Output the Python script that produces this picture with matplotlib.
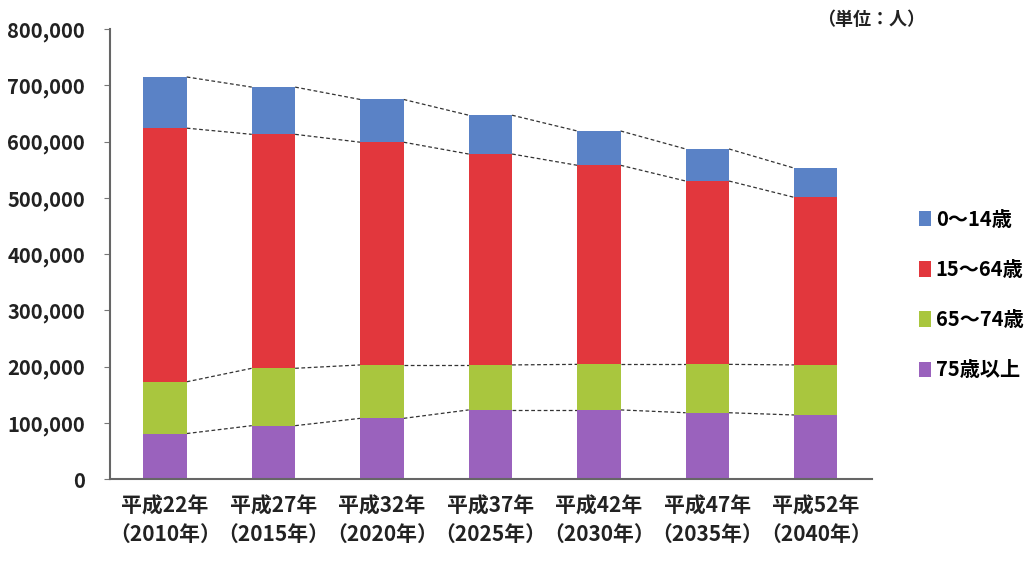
import numpy as np
import matplotlib.pyplot as plt
from matplotlib.ticker import FuncFormatter

plt.rcParams['font.family'] = ['Noto Sans CJK JP', 'DejaVu Sans']

# データ（単位：人）
labels = ["平成22年\n（2010年）", "平成27年\n（2015年）", "平成32年\n（2020年）",
          "平成37年\n（2025年）", "平成42年\n（2030年）", "平成47年\n（2035年）",
          "平成52年\n（2040年）"]
age75 = [81000, 95000, 108000, 123000, 123000, 118000, 114000]
age65 = [92000, 102000, 95000, 80000, 81000, 86000, 89000]
age15 = [451000, 416000, 396000, 375000, 354000, 326000, 298000]
age0 = [91000, 84000, 76000, 69000, 61000, 57000, 52000]

series = [age75, age65, age15, age0]
names = ["75歳以上", "65～74歳", "15～64歳", "0～14歳"]
colors = ["#9a62bd", "#a9c63e", "#e2373d", "#5a82c6"]

fig = plt.figure(figsize=(10.28, 5.61), dpi=100)
ax = fig.add_axes([0.107, 0.146, 0.741, 0.802])

x = np.arange(len(labels))
w = 0.4
bottom = np.zeros(len(labels))
for vals, name, c in zip(series, names, colors):
    ax.bar(x, vals, w, bottom=bottom, color=c, label=name, zorder=2)
    bottom = bottom + np.array(vals)
    # 区分線（棒の間を点線でつなぐ）
    for i in range(len(x) - 1):
        ax.plot([x[i] + w / 2, x[i + 1] - w / 2], [bottom[i], bottom[i + 1]],
                color="#333333", lw=0.9, ls=(0, (3, 2)), zorder=1)

ax.set_xlim(-0.507, len(labels) - 0.484)
ax.set_ylim(0, 800000)
ax.set_yticks(range(0, 800001, 100000))
ax.yaxis.set_major_formatter(FuncFormatter(lambda v, p: f"{int(v):,}"))
ax.set_xticks(x)
ax.set_xticklabels(labels, fontsize=15, fontweight="bold", color="#222222",
                   linespacing=1.45)
for t in ax.get_yticklabels():
    t.set_fontsize(14.5)
    t.set_fontweight("bold")
    t.set_color("#222222")
ax.tick_params(axis="x", length=0, pad=12)
ax.tick_params(axis="y", length=4, color="#777777", pad=14)
for s in ["top", "right"]:
    ax.spines[s].set_visible(False)
for s in ["left", "bottom"]:
    ax.spines[s].set_color("#666666")
    ax.spines[s].set_linewidth(1.5)

handles, lbls = ax.get_legend_handles_labels()
fig.legend(handles[::-1], lbls[::-1], loc="center left", bbox_to_anchor=(0.876, 0.475),
           frameon=False, prop={"size": 14.5, "weight": "bold"},
           handlelength=0.6, handleheight=0.8, handletextpad=0.25, labelspacing=1.45)

fig.text(0.9, 0.965, "（単位：人）", ha="right", va="center", fontsize=13,
         fontweight="bold", color="#222222")

fig.savefig("out.png", dpi=100, facecolor="white")
